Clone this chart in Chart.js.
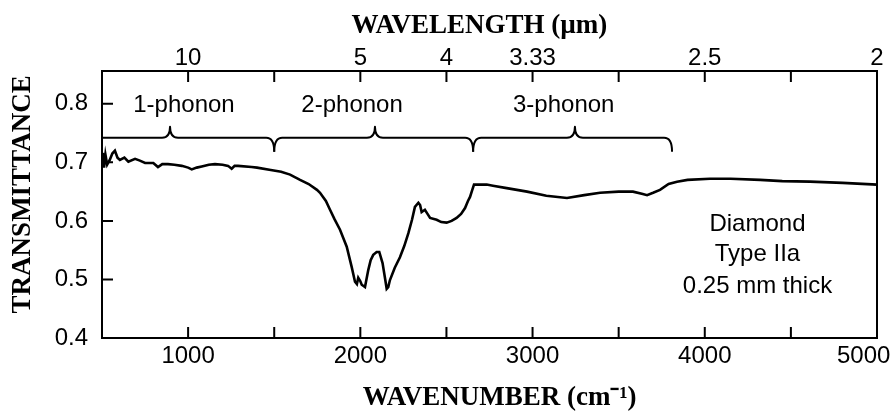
<!DOCTYPE html>
<html>
<head>
<meta charset="utf-8">
<script src="https://cdn.jsdelivr.net/npm/chart.js@4"></script>
<style>
  html, body { margin: 0; padding: 0; background: #fff; }
  #wrap { width: 892px; height: 412px; }
</style>
</head>
<body>
<div id="wrap"><canvas id="spectrum"></canvas></div>
<script>
const wavenumbers = [
  500, 505, 512, 520, 530, 545, 560, 575, 590, 604, 630, 653, 692, 720, 750,
  798, 825, 850, 883, 920, 963, 1000, 1021, 1050, 1079, 1120, 1156, 1200, 1232,
  1253, 1270, 1290, 1369, 1400, 1480, 1540, 1592, 1650, 1700, 1748, 1766, 1800,
  1824, 1850, 1882, 1921, 1950, 1969, 1980, 1988, 2000, 2008, 2027, 2046, 2060,
  2075, 2095, 2110, 2129, 2145, 2153, 2162, 2172, 2200, 2230, 2255, 2279, 2300,
  2317, 2337, 2347, 2356, 2375, 2390, 2405, 2443, 2470, 2501, 2530, 2559, 2585,
  2608, 2625, 2637, 2650, 2660, 2700, 2734, 2770, 2850, 2968, 3080, 3200, 3300,
  3392, 3500, 3583, 3640, 3665, 3700, 3740, 3790, 3839, 3900, 4030, 4150, 4321,
  4450, 4611, 4800, 5000,
]
const transmittance = [
  0.704, 0.716, 0.691, 0.713, 0.696, 0.704, 0.715, 0.72, 0.708, 0.704, 0.708,
  0.701, 0.706, 0.703, 0.699, 0.699, 0.692, 0.697, 0.697, 0.696, 0.694, 0.691,
  0.688, 0.691, 0.693, 0.696, 0.697, 0.696, 0.694, 0.689, 0.694, 0.694, 0.692,
  0.691, 0.687, 0.684, 0.679, 0.67, 0.663, 0.653, 0.648, 0.634, 0.619, 0.603,
  0.585, 0.556, 0.521, 0.496, 0.492, 0.503, 0.497, 0.491, 0.487, 0.516, 0.533,
  0.542, 0.547, 0.547, 0.528, 0.499, 0.484, 0.487, 0.499, 0.52, 0.538, 0.557,
  0.579, 0.602, 0.624, 0.631, 0.627, 0.615, 0.619, 0.612, 0.605, 0.602, 0.598,
  0.597, 0.6, 0.605, 0.612, 0.622, 0.634, 0.641, 0.653, 0.662, 0.662, 0.662,
  0.66, 0.656, 0.65, 0.643, 0.639, 0.644, 0.648, 0.65, 0.65, 0.646, 0.644,
  0.648, 0.653, 0.663, 0.667, 0.67, 0.672, 0.672, 0.67, 0.668, 0.667, 0.665,
  0.662,
]

const bottomTicks = [1000, 1500, 2000, 2500, 3000, 3500, 4000, 4500, 5000]
const bottomTickLabels = ["1000", "", "2000", "", "3000", "", "4000", "", "5000"]
const topTicks = [1000, 1500, 2000, 2500, 3000, 3500, 4000, 4500, 5000]
const topTickLabels = ["10", "", "5", "4", "3.33", "", "2.5", "", "2"]
const yTicks = [0.4, 0.5, 0.6, 0.7, 0.8]
const yTickLabels = ["0.4", "0.5", "0.6", "0.7", "0.8"]

const braceStarts = [500, 1500, 2655]
const braceTips = [895, 2085, 3246]
const braceEnds = [1500, 2655, 3810]
const braceLevel = 0.742
const phononLabels = ["1-phonon", "2-phonon", "3-phonon"]
const phononLabelX = [976, 1952, 3181]
const phononLabelY = 0.797

const sampleLines = ["Diamond", "Type IIa", "0.25 mm thick"]
const sampleLineX = 4306
const sampleLineY = [0.5935, 0.5423, 0.4876]

const sans = "'Liberation Sans', Arial, sans-serif"
const serif = "'Liberation Serif', 'Times New Roman', serif"

const inwardTicks = {
  id: "inwardTicks",
  afterDraw(chart) {
    const { ctx, chartArea, scales } = chart
    const len = 11
    ctx.save()
    ctx.strokeStyle = "#000"
    ctx.lineWidth = 2
    ctx.beginPath()
    scales.x.ticks.forEach((t) => {
      const px = scales.x.getPixelForValue(t.value)
      ctx.moveTo(px, chartArea.bottom)
      ctx.lineTo(px, chartArea.bottom - len)
    })
    scales.x2.ticks.forEach((t) => {
      const px = scales.x2.getPixelForValue(t.value)
      ctx.moveTo(px, chartArea.top)
      ctx.lineTo(px, chartArea.top + len)
    })
    scales.y.ticks.forEach((t) => {
      const py = scales.y.getPixelForValue(t.value)
      ctx.moveTo(chartArea.left, py)
      ctx.lineTo(chartArea.left + len, py)
    })
    ctx.stroke()
    ctx.restore()
  },
}

const braces = {
  id: "braces",
  afterDatasetsDraw(chart) {
    const { ctx, scales } = chart
    const x = scales.x
    const y = scales.y
    const L = y.getPixelForValue(braceLevel)
    const r = 8
    const tip = 11
    const drop = 14
    ctx.save()
    ctx.strokeStyle = "#000"
    ctx.lineWidth = 2
    ctx.lineJoin = "round"
    braceStarts.forEach((start, i) => {
      const a = x.getPixelForValue(start)
      const t = x.getPixelForValue(braceTips[i])
      const b = x.getPixelForValue(braceEnds[i])
      ctx.beginPath()
      if (start <= x.min) {
        ctx.moveTo(a, L)
      } else {
        ctx.moveTo(a, L + drop)
        ctx.quadraticCurveTo(a, L, a + r, L)
      }
      ctx.lineTo(t - r, L)
      ctx.quadraticCurveTo(t, L, t, L - tip)
      ctx.quadraticCurveTo(t, L, t + r, L)
      ctx.lineTo(b - r, L)
      ctx.quadraticCurveTo(b, L, b, L + drop)
      ctx.stroke()
    })

    ctx.fillStyle = "#000"
    ctx.font = "24px " + sans
    ctx.textAlign = "center"
    ctx.textBaseline = "middle"
    phononLabels.forEach((label, i) => {
      ctx.fillText(label, x.getPixelForValue(phononLabelX[i]), y.getPixelForValue(phononLabelY))
    })
    sampleLines.forEach((line, i) => {
      ctx.fillText(line, x.getPixelForValue(sampleLineX), y.getPixelForValue(sampleLineY[i]))
    })
    ctx.restore()
  },
}

new Chart(document.getElementById("spectrum"), {
  type: "line",
  data: {
    datasets: [
      {
        data: wavenumbers.map((w, i) => ({ x: w, y: transmittance[i] })),
        borderColor: "#000",
        borderWidth: 2.6,
        pointRadius: 0,
        tension: 0,
        xAxisID: "x",
        yAxisID: "y",
      },
    ],
  },
  options: {
    responsive: true,
    maintainAspectRatio: false,
    devicePixelRatio: 1,
    animation: false,
    layout: { padding: 0 },
    plugins: {
      legend: { display: false },
      tooltip: { enabled: false },
    },
    scales: {
      x: {
        type: "linear",
        position: "bottom",
        min: 500,
        max: 5000,
        afterBuildTicks: (s) => {
          s.ticks = bottomTicks.map((v) => ({ value: v }))
        },
        afterFit: (s) => {
          s.height = 74
          s.paddingLeft = 0
          s.paddingRight = 0
        },
        ticks: {
          autoSkip: false,
          maxRotation: 0,
          padding: 4,
          color: "#000",
          font: { family: sans, size: 24 },
          callback: (v, i) =>
            i === bottomTicks.length - 1 ? bottomTickLabels[i] + "    " : bottomTickLabels[i],
        },
        grid: { drawOnChartArea: false, drawTicks: false },
        border: { display: true, color: "#000", width: 2 },
        title: {
          display: true,
          text: "   WAVENUMBER (cm⁻¹)",
          color: "#000",
          font: { family: serif, size: 27, weight: "bold" },
          padding: { top: 0, bottom: -2 },
        },
      },
      x2: {
        type: "linear",
        position: "top",
        min: 500,
        max: 5000,
        afterBuildTicks: (s) => {
          s.ticks = topTicks.map((v) => ({ value: v }))
        },
        afterFit: (s) => {
          s.height = 71
          s.paddingLeft = 0
          s.paddingRight = 0
        },
        ticks: {
          autoSkip: false,
          maxRotation: 0,
          padding: -2,
          color: "#000",
          font: { family: sans, size: 24 },
          callback: (v, i) => topTickLabels[i],
        },
        grid: { drawOnChartArea: false, drawTicks: false },
        border: { display: true, color: "#000", width: 2 },
        title: {
          display: true,
          text: "WAVELENGTH (µm)   ",
          color: "#000",
          font: { family: serif, size: 27, weight: "bold" },
          padding: { top: 10, bottom: 0 },
        },
      },
      y: {
        type: "linear",
        position: "left",
        min: 0.4,
        max: 0.856,
        afterBuildTicks: (s) => {
          s.ticks = yTicks.map((v) => ({ value: v }))
        },
        afterFit: (s) => {
          s.width = 102
          s.paddingTop = 0
          s.paddingBottom = 0
        },
        ticks: {
          padding: 14,
          color: "#000",
          font: { family: sans, size: 24 },
          callback: (v, i) => yTickLabels[i],
        },
        grid: { drawOnChartArea: false, drawTicks: false },
        border: { display: true, color: "#000", width: 2 },
        title: {
          display: true,
          text: "   TRANSMITTANCE",
          color: "#000",
          font: { family: serif, size: 27, weight: "bold" },
          padding: { top: 7, bottom: 0 },
        },
      },
      yr: {
        type: "linear",
        position: "right",
        min: 0.4,
        max: 0.856,
        afterFit: (s) => {
          s.width = 15
          s.paddingTop = 0
          s.paddingBottom = 0
        },
        ticks: { display: false },
        grid: { drawOnChartArea: false, drawTicks: false },
        border: { display: true, color: "#000", width: 2 },
      },
    },
  },
  plugins: [braces, inwardTicks],
})
</script>
</body>
</html>
